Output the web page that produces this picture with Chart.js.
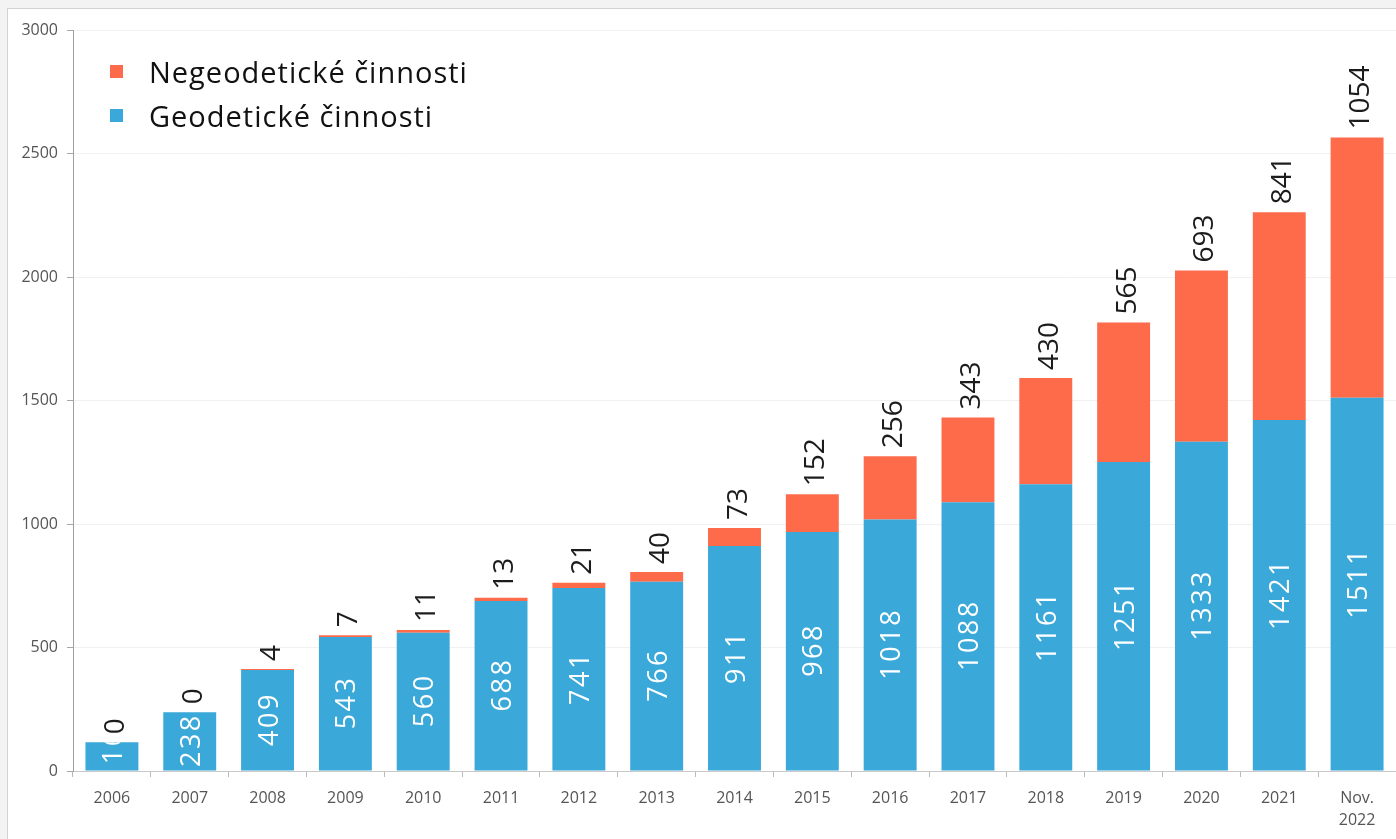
<!DOCTYPE html>
<html lang="cs">
<head>
<meta charset="utf-8">
<title>Geodetické a negeodetické činnosti</title>
<script src="https://cdn.jsdelivr.net/npm/chart.js@4/dist/chart.umd.min.js"></script>
<style>
  html, body { margin: 0; padding: 0; background: #f3f3f3; overflow: hidden; }
  #frame {
    position: absolute; left: 7px; top: 8px; right: -2px; bottom: -2px;
    background: #ffffff; border-left: 1px solid #d2d2d2; border-top: 1px solid #d2d2d2;
  }
  #chart { position: absolute; left: 0; top: 0; }
</style>
</head>
<body>
<div id="frame"></div>
<canvas id="chart" width="1396" height="839"></canvas>
<script>
// Roky (poslední sloupec je stav k listopadu 2022)
const categories = ['2006', '2007', '2008', '2009', '2010', '2011', '2012', '2013', '2014',
  '2015', '2016', '2017', '2018', '2019', '2020', '2021', ['Nov.', '2022']];

const geodeticke = [116, 238, 409, 543, 560, 688, 741, 766, 911, 968, 1018, 1088, 1161, 1251, 1333, 1421, 1511];
const negeodeticke = [0, 0, 4, 7, 11, 13, 21, 40, 73, 152, 256, 343, 430, 565, 693, 841, 1054];

const yTicks = [0, 500, 1000, 1500, 2000, 2500, 3000];

const BLUE = '#3aa8d8';
const ORANGE = '#fd6b4b';
const FONT = '"Open Sans", "Noto Sans", sans-serif';

// Rotated value labels: white inside the blue segment, dark above the stack
const valueLabels = {
  id: 'valueLabels',
  afterDatasetsDraw(chart) {
    const ctx = chart.ctx;
    chart.data.datasets.forEach((ds, di) => {
      const meta = chart.getDatasetMeta(di);
      meta.data.forEach((bar, i) => {
        const v = ds.data[i];
        const { x, y, base, width } = bar.getProps(['x', 'y', 'base', 'width'], true);
        ctx.save();
        if (ds.labelInside) {
          ctx.beginPath();
          ctx.rect(x - width / 2, y, width, base - y);
          ctx.clip();
          ctx.font = '27px ' + FONT;
          ctx.letterSpacing = '2.5px';
          ctx.fillStyle = '#ffffff';
          ctx.translate(x, (y + base) / 2);
          ctx.rotate(-Math.PI / 2);
          ctx.textAlign = 'center';
          ctx.textBaseline = 'alphabetic';
          ctx.fillText(String(v), 1.25, 10);
        } else {
          ctx.font = '28px ' + FONT;
          ctx.fillStyle = '#1c1c1c';
          ctx.translate(x, y - 8);
          ctx.rotate(-Math.PI / 2);
          ctx.textAlign = 'left';
          ctx.textBaseline = 'alphabetic';
          ctx.fillText(String(v), 0, 12);
        }
        ctx.restore();
      });
    });
  }
};

// Legend in the upper left of the plot (series listed top of stack first)
const cornerLegend = {
  id: 'cornerLegend',
  afterDraw(chart) {
    const ctx = chart.ctx;
    const order = chart.data.datasets.map((d, i) => i).reverse();
    ctx.save();
    ctx.font = '29px ' + FONT;
    ctx.letterSpacing = '1px';
    ctx.textBaseline = 'alphabetic';
    ctx.textAlign = 'left';
    order.forEach((di, row) => {
      const ds = chart.data.datasets[di];
      const baseY = 83 + row * 44;
      ctx.fillStyle = ds.backgroundColor;
      ctx.fillRect(110, baseY - 18, 13, 13);
      ctx.fillStyle = '#111111';
      ctx.fillText(ds.label, 149, baseY);
    });
    ctx.restore();
  }
};

new Chart(document.getElementById('chart'), {
  type: 'bar',
  data: {
    labels: categories,
    datasets: [
      { label: 'Geodetické činnosti', data: geodeticke, backgroundColor: BLUE, labelInside: true },
      { label: 'Negeodetické činnosti', data: negeodeticke, backgroundColor: ORANGE, labelInside: false }
    ]
  },
  options: {
    responsive: false,
    animation: false,
    devicePixelRatio: 1,
    layout: { padding: { top: 30, right: 0, left: 0, bottom: 0 } },
    datasets: { bar: { barPercentage: 0.68, categoryPercentage: 1.0 } },
    plugins: {
      legend: { display: false },
      tooltip: { enabled: false }
    },
    scales: {
      x: {
        stacked: true,
        grid: { offset: true, drawOnChartArea: false, color: '#b9b9b9', tickLength: 6 },
        border: { color: '#c9c9c9' },
        ticks: {
          font: { family: FONT, size: 16, lineHeight: 1.4 },
          color: '#555555',
          padding: 10,
          maxRotation: 0,
          autoSkip: false
        },
        afterFit(scale) { scale.height = 68; }
      },
      y: {
        stacked: true,
        min: 0,
        max: 3000,
        afterBuildTicks(scale) { scale.ticks = yTicks.map(v => ({ value: v })); },
        grid: { color: '#f1f1f1', tickColor: '#a8a8a8', tickLength: 6 },
        border: { color: '#a0a0a0' },
        ticks: {
          font: { family: FONT, size: 16 },
          color: '#555555',
          padding: 9,
          callback: v => String(v)
        },
        afterFit(scale) { scale.width = 73; }
      }
    }
  },
  plugins: [valueLabels, cornerLegend]
});
</script>
</body>
</html>
